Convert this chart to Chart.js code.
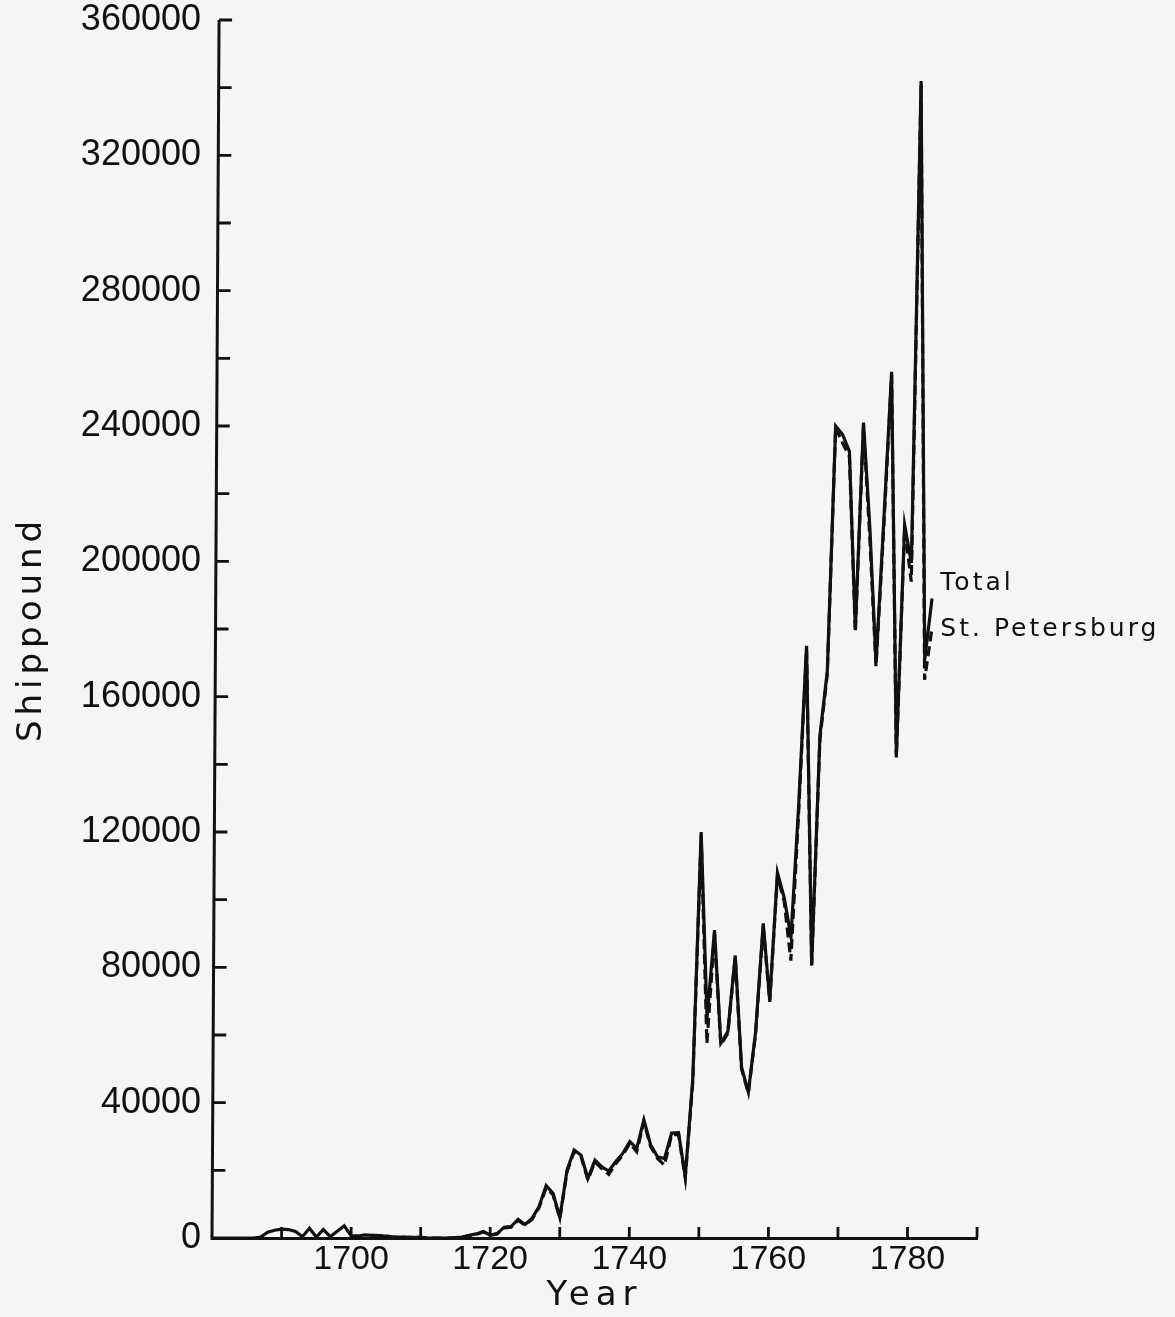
<!DOCTYPE html>
<html>
<head>
<meta charset="utf-8">
<title>Shippound, Total and St. Petersburg</title>
<script src="https://cdn.jsdelivr.net/npm/chart.js@4.4.1/dist/chart.umd.min.js"></script>
<style>
  html, body { margin: 0; padding: 0; background: #f5f5f3; overflow: hidden; }
  #wrap { width: 1175px; height: 1317px; }
</style>
</head>
<body>
<div id="wrap"><canvas id="c" width="1175" height="1317"></canvas></div>
<script>
// Annual series, 1680-1783
const years = [
  1680, 1681, 1682, 1683, 1684, 1685, 1686, 1687, 1688, 1689,
  1690, 1691, 1692, 1693, 1694, 1695, 1696, 1697, 1698, 1699,
  1700, 1701, 1702, 1703, 1704, 1705, 1706, 1707, 1708, 1709,
  1710, 1711, 1712, 1713, 1714, 1715, 1716, 1717, 1718, 1719,
  1720, 1721, 1722, 1723, 1724, 1725, 1726, 1727, 1728, 1729,
  1730, 1731, 1732, 1733, 1734, 1735, 1736, 1737, 1738, 1739,
  1740, 1741, 1742, 1743, 1744, 1745, 1746, 1747, 1748, 1749,
  1750, 1751, 1752, 1753, 1754, 1755, 1756, 1757, 1758, 1759,
  1760, 1761, 1762, 1763, 1764, 1765, 1766, 1767, 1768, 1769,
  1770, 1771, 1772, 1773, 1774, 1775, 1776, 1777, 1778, 1779,
  1780, 1781, 1782, 1783
];

const totalShippound = [
  0, 0, 0, 0, 0, 0, 0, 300, 1700, 2300,
  2600, 2500, 1900, 400, 2900, 300, 2500, 400, 2000, 3600,
  700, 600, 900, 800, 700, 600, 300, 300, 200, 200,
  200, 0, 0, 0, 0, 100, 300, 800, 1200, 1900,
  900, 1300, 3200, 3400, 5500, 4000, 5800, 9300, 15500, 13200,
  6000, 20100, 26000, 24500, 17600, 23000, 21000, 19800, 22600, 25000,
  28500, 26500, 34900, 27500, 24000, 23500, 31000, 31100, 18100, 47000,
  120000, 65000, 91000, 57600, 61000, 83500, 50500, 43100, 61000, 93000,
  70300, 108000, 100500, 89000, 128000, 175000, 81000, 148600, 167500, 240000,
  237500, 232500, 180000, 241000, 210000, 170000, 212000, 256000, 142800, 210800,
  199500, 342000, 171000, 189000
];

const stPetersburg = [
  null, null, null, null, null, null, null, null, null, null,
  null, null, null, null, null, null, null, null, null, null,
  null, null, null, 800, 700, 600, 300, 300, 200, 200,
  200, 0, 0, 0, 0, 100, 300, 700, 1100, 1800,
  800, 1200, 3000, 3200, 5200, 3800, 5500, 9000, 14800, 12800,
  5800, 19600, 25500, 24000, 17200, 22500, 20500, 18800, 22000, 24500,
  28000, 25500, 34300, 27000, 23500, 21500, 30500, 30600, 17800, 46000,
  119000, 57500, 90000, 57000, 60500, 83000, 50000, 42800, 60500, 92000,
  69800, 107000, 99500, 82000, 126000, 174000, 80500, 147500, 166500, 239500,
  235000, 231000, 179000, 240000, 207000, 169000, 210000, 255000, 142000, 210000,
  194000, 341000, 165000, 180000
];

const seriesNames = ['Total', 'St. Petersburg'];

// Axis ranges and tick spacing
const yearMin = 1680, yearMax = 1790, yearStep = 10, yearLabelStep = 20;
const shipMin = 0, shipMax = 360000, shipStep = 20000, shipLabelStep = 40000;

const ink = '#111111';
const TITLE_FONT = "'DejaVu Sans', sans-serif";
const TICK_FONT = "'Liberation Sans', Arial, sans-serif";

// The pen plot leans slightly right towards the top: x shifts by lean * height
const lean = 0.0058;

function pairs(values) {
  return years.map((yr, i) => ({ x: yr, y: values[i] }));
}

function applyLean(ctx, bottom) {
  ctx.transform(1, 0, -lean, 1, lean * bottom, 0);
}

// Wrap a scale drawing method so its text is letter-spaced like a pen plotter
function spaced(fn, px) {
  return function (...args) {
    const c = this.ctx;
    const prev = c.letterSpacing;
    c.letterSpacing = px;
    fn.apply(this, args);
    c.letterSpacing = prev;
  };
}
function plotterText(scale, titleSpacing) {
  if (scale._plotterText) return;
  scale.drawTitle = spaced(scale.drawTitle, titleSpacing);
  scale._plotterText = true;
}

// Lines are drawn in the leaning frame
const leanLines = {
  id: 'leanLines',
  beforeDatasetsDraw(chart) {
    chart.ctx.save();
    applyLean(chart.ctx, chart.chartArea.bottom);
  },
  afterDatasetsDraw(chart) {
    chart.ctx.restore();
  }
};

// Vertical axis line plus short tick marks drawn inward from both axes
const inwardTicks = {
  id: 'inwardTicks',
  afterDraw(chart) {
    const { ctx, chartArea } = chart;
    const xs = chart.scales.x, ys = chart.scales.y;
    ctx.save();
    applyLean(ctx, chartArea.bottom);
    ctx.strokeStyle = ink;
    ctx.lineCap = 'butt';
    ctx.lineWidth = 3;
    ctx.beginPath();
    ctx.moveTo(chartArea.left, chartArea.bottom + 1.5);
    ctx.lineTo(chartArea.left, chartArea.top);
    ctx.stroke();
    ctx.lineWidth = 2.8;
    ctx.beginPath();
    xs.ticks.forEach(t => {
      if (t.value === yearMin) return;
      const px = xs.getPixelForValue(t.value);
      ctx.moveTo(px, chartArea.bottom);
      ctx.lineTo(px, chartArea.bottom - 11);
    });
    ys.ticks.forEach(t => {
      if (t.value === shipMin) return;
      const py = ys.getPixelForValue(t.value);
      ctx.moveTo(chartArea.left, py);
      ctx.lineTo(chartArea.left + 13, py);
    });
    ctx.stroke();
    ctx.restore();
  }
};

// Series names written next to the line ends
const endLabels = {
  id: 'endLabels',
  afterDatasetsDraw(chart) {
    const { ctx } = chart;
    const xs = chart.scales.x, ys = chart.scales.y;
    const last = years.length - 1;
    const x = xs.getPixelForValue(years[last]) + 12;
    ctx.save();
    ctx.letterSpacing = '3px';
    ctx.fillStyle = ink;
    ctx.font = "25px " + TITLE_FONT;
    ctx.textAlign = 'left';
    ctx.textBaseline = 'middle';
    ctx.fillText(seriesNames[0], x, ys.getPixelForValue(totalShippound[last]) - 15);
    ctx.fillText(seriesNames[1], x, ys.getPixelForValue(stPetersburg[last]));
    ctx.restore();
  }
};

new Chart(document.getElementById('c'), {
  type: 'line',
  data: {
    datasets: [
      {
        label: seriesNames[0],
        data: pairs(totalShippound),
        borderColor: ink,
        borderWidth: 3.2,
        pointRadius: 0,
        tension: 0,
        spanGaps: false
      },
      {
        label: seriesNames[1],
        data: pairs(stPetersburg),
        borderColor: ink,
        borderWidth: 3.2,
        borderDash: [10, 5],
        pointRadius: 0,
        tension: 0,
        spanGaps: false
      }
    ]
  },
  options: {
    responsive: false,
    animation: false,
    events: [],
    layout: { padding: { left: 0, right: 198, top: 20, bottom: 0 } },
    plugins: { legend: { display: false }, tooltip: { enabled: false } },
    scales: {
      x: {
        type: 'linear',
        min: yearMin,
        max: yearMax,
        grid: { display: false, drawTicks: false },
        border: { display: true, color: ink, width: 3 },
        ticks: {
          stepSize: yearStep,
          autoSkip: false,
          maxRotation: 0,
          padding: 1,
          color: ink,
          font: { family: TICK_FONT, size: 34 },
          callback: v => (v % yearLabelStep === 0 && v >= 1700 && v <= 1780) ? String(v) : ''
        },
        title: {
          display: true,
          text: 'Year',
          color: ink,
          font: { family: TITLE_FONT, size: 34 },
          padding: { top: 0, bottom: 0 }
        },
        afterFit(scale) {
          scale.height = 79;
          scale.paddingLeft = 0;
          scale.paddingRight = 0;
          plotterText(scale, '6px');
        }
      },
      y: {
        type: 'linear',
        min: shipMin,
        max: shipMax,
        grid: { display: false, drawTicks: false },
        border: { display: false },
        ticks: {
          stepSize: shipStep,
          autoSkip: false,
          padding: 11,
          color: ink,
          font: { family: TICK_FONT, size: 36 },
          callback: v => (v % shipLabelStep === 0) ? String(v) : ''
        },
        title: {
          display: true,
          text: 'Shippound',
          color: ink,
          font: { family: TITLE_FONT, size: 34 },
          padding: { top: 12, bottom: 0 }
        },
        afterFit(scale) {
          scale.width = 212;
          scale.paddingTop = 0;
          scale.paddingBottom = 0;
          plotterText(scale, '5px');
        }
      }
    }
  },
  plugins: [leanLines, inwardTicks, endLabels]
});
</script>
</body>
</html>
